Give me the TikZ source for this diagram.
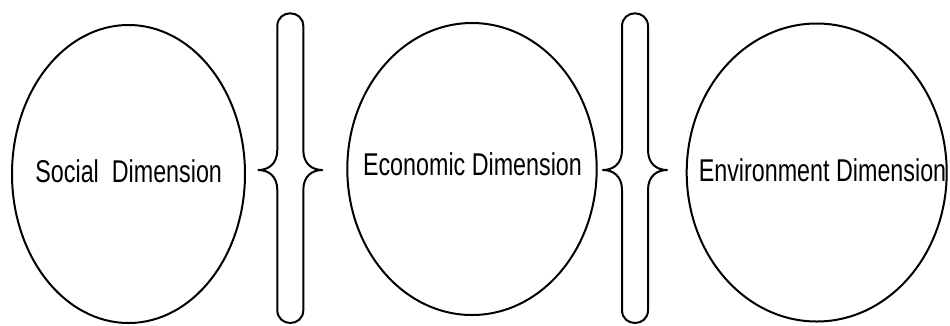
\documentclass[tikz,border=0pt]{standalone}
\usepackage{fontspec}
\setmainfont[FakeStretch=0.74]{Liberation Sans}
\usetikzlibrary{shapes.geometric}
\tikzset{
  dimellipse/.style={ellipse, draw=black, line width=2pt, inner sep=0pt},
  dimtext/.style={anchor=base, inner sep=0pt, font=\fontsize{31.5}{31.5}\selectfont},
  bracepair/.pic={
    \draw[line width=2pt, line join=round]
      (-13,140) -- (-13,20) .. controls (-13,6) and (-22,0) .. (-32,0)
      .. controls (-22,0) and (-13,-6) .. (-13,-20) -- (-13,-143.7)
      .. controls (-13,-161) and (13,-161) .. (13,-143.7) -- (13,-20)
      .. controls (13,-6) and (22,0) .. (32,0)
      .. controls (22,0) and (13,6) .. (13,20) -- (13,140)
      .. controls (13,157.3) and (-13,157.3) .. (-13,140) -- cycle;
  }
}
\begin{document}
\begin{tikzpicture}[x=1pt,y=-1pt]
\useasboundingbox (0,0) rectangle (950,325);
% ellipses
\node[dimellipse, minimum width=233pt, minimum height=298pt] (soc) at (128.5,174) {};
\node[dimellipse, minimum width=249.4pt, minimum height=292pt] (eco) at (472,169) {};
\node[dimellipse, minimum width=260pt, minimum height=298pt] (env) at (816.7,172.5) {};
% labels
\node[dimtext] (soctext) at (128.7,182) {Social\ \ Dimension};
\node[dimtext] (ecotext) at (472.5,175) {Economic Dimension};
\node[dimtext] (envtext) at (822.5,181) {Environment Dimension};
% brackets
\pic at (290.3,170) {bracepair};
\pic at (635,170) {bracepair};
\end{tikzpicture}
\end{document}
